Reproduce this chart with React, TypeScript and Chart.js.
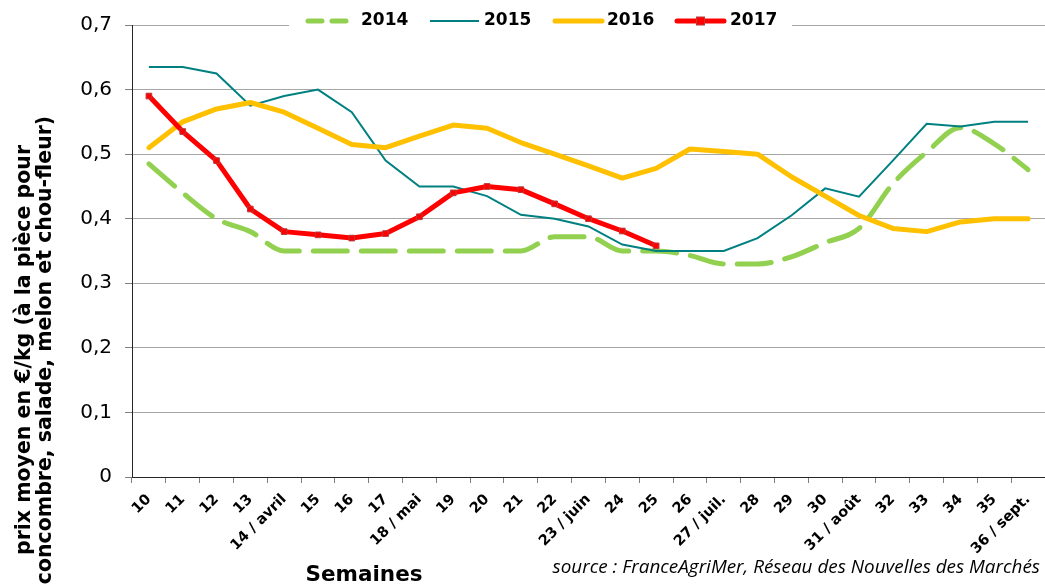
import { useEffect, useRef } from 'react';
import { Chart, registerables } from 'chart.js';
Chart.register(...registerables);

const weeks = ['10', '11', '12', '13', '14 / avril', '15', '16', '17', '18 / mai', '19', '20', '21', '22', '23 / juin', '24', '25', '26', '27 / juil.', '28', '29', '30', '31 / août', '32', '33', '34', '35', '36 / sept.'];
const s2014 = [0.485, 0.44, 0.40, 0.38, 0.35, 0.35, 0.35, 0.35, 0.35, 0.35, 0.35, 0.35, 0.372, 0.372, 0.35, 0.35, 0.343, 0.33, 0.33, 0.341, 0.363, 0.385, 0.454, 0.503, 0.541, 0.516, 0.476];
const s2015 = [0.635, 0.635, 0.625, 0.575, 0.59, 0.60, 0.565, 0.49, 0.45, 0.45, 0.435, 0.406, 0.40, 0.388, 0.36, 0.35, 0.35, 0.35, 0.37, 0.405, 0.447, 0.434, 0.49, 0.547, 0.543, 0.55, 0.55];
const s2016 = [0.51, 0.55, 0.57, 0.58, 0.565, 0.54, 0.515, 0.51, 0.528, 0.545, 0.54, 0.518, 0.50, 0.482, 0.463, 0.478, 0.508, 0.504, 0.50, 0.465, 0.435, 0.405, 0.385, 0.38, 0.395, 0.40, 0.40];
const s2017 = [0.59, 0.535, 0.49, 0.415, 0.38, 0.375, 0.37, 0.377, 0.403, 0.44, 0.45, 0.445, 0.423, 0.40, 0.381, 0.358, null, null, null, null, null, null, null, null, null, null, null];
const yTicks = [0, 0.1, 0.2, 0.3, 0.4, 0.5, 0.6, 0.7];

const seriesNames = ['2014', '2015', '2016', '2017'];
const yTitle1 = 'prix moyen en €/kg (à la pièce pour';
const yTitle2 = 'concombre, salade, melon et chou-fleur)';
const xTitle = 'Semaines';
const sourceText = 'source : FranceAgriMer, Réseau des Nouvelles des Marchés';

const GREEN = '#92D050';
const TEAL = '#008080';
const YELLOW = '#FFC000';
const RED = '#FF0000';

const decor = {
  id: 'decor',
  afterDraw(chart: any) {
    const ctx = chart.ctx as CanvasRenderingContext2D;
    ctx.save();
    // y title
    ctx.fillStyle = '#000';
    ctx.font = 'bold 20.5px "DejaVu Sans"';
    ctx.textAlign = 'center';
    ctx.textBaseline = 'middle';
    ctx.save();
    ctx.translate(25, 350);
    ctx.rotate(-Math.PI / 2);
    ctx.fillText(yTitle1, 0, 0);
    ctx.restore();
    ctx.save();
    ctx.translate(46, 350);
    ctx.rotate(-Math.PI / 2);
    ctx.fillText(yTitle2, 0, 0);
    ctx.restore();
    // x title
    ctx.font = 'bold 21.5px "DejaVu Sans"';
    ctx.fillText(xTitle, 364, 575);
    // source
    ctx.font = 'italic 18.9px "Open Sans"';
    ctx.textAlign = 'right';
    ctx.fillText(sourceText, 1040, 568);

    // legend
    ctx.fillStyle = '#fff';
    ctx.fillRect(289, 6, 503, 28);
    const ly = 21;
    ctx.lineCap = 'round';
    ctx.font = 'bold 17px "DejaVu Sans"';
    ctx.textAlign = 'left';
    ctx.fillStyle = '#000';
    // 2014
    ctx.strokeStyle = GREEN;
    ctx.lineWidth = 5;
    ctx.beginPath();
    ctx.moveTo(308, ly); ctx.lineTo(322, ly);
    ctx.moveTo(332, ly); ctx.lineTo(346, ly);
    ctx.stroke();
    ctx.fillText(seriesNames[0], 361, ly);
    // 2015
    ctx.strokeStyle = TEAL;
    ctx.lineWidth = 2;
    ctx.lineCap = 'butt';
    ctx.beginPath();
    ctx.moveTo(430, ly); ctx.lineTo(479, ly);
    ctx.stroke();
    ctx.fillText(seriesNames[1], 484, ly);
    // 2016
    ctx.lineCap = 'round';
    ctx.strokeStyle = YELLOW;
    ctx.lineWidth = 5;
    ctx.beginPath();
    ctx.moveTo(555, ly); ctx.lineTo(602, ly);
    ctx.stroke();
    ctx.fillText(seriesNames[2], 607, ly);
    // 2017
    ctx.strokeStyle = RED;
    ctx.beginPath();
    ctx.moveTo(677, ly); ctx.lineTo(724, ly);
    ctx.stroke();
    ctx.fillStyle = RED;
    ctx.fillRect(696.5, ly - 4, 8, 8);
    ctx.strokeStyle = '#b83a3a';
    ctx.lineWidth = 1;
    ctx.strokeRect(696.5, ly - 4, 8, 8);
    ctx.fillStyle = '#000';
    ctx.fillText(seriesNames[3], 730, ly);
    ctx.restore();
  },
};

export default function App() {
  const ref = useRef<HTMLCanvasElement>(null);
  useEffect(() => {
    document.body.style.margin = '0';
    const chart = new Chart(ref.current!, {
      type: 'line',
      data: {
        labels: weeks,
        datasets: [
          { label: seriesNames[0], data: s2014, borderColor: GREEN, backgroundColor: GREEN, borderWidth: 5, borderDash: [34, 14], borderCapStyle: 'round', pointRadius: 0, cubicInterpolationMode: 'monotone', order: 4 },
          { label: seriesNames[1], data: s2015, borderColor: TEAL, backgroundColor: TEAL, borderWidth: 2, pointRadius: 0, order: 3 },
          { label: seriesNames[2], data: s2016, borderColor: YELLOW, backgroundColor: YELLOW, borderWidth: 5, borderJoinStyle: 'round', borderCapStyle: 'round', pointRadius: 0, order: 2 },
          { label: seriesNames[3], data: s2017, borderColor: RED, backgroundColor: RED, borderWidth: 5, borderJoinStyle: 'round', pointStyle: 'rect', pointRadius: 4, pointBackgroundColor: RED, pointBorderColor: '#b83a3a', pointBorderWidth: 1, order: 1, spanGaps: false },
        ] as any,
      },
      options: {
        animation: false,
        responsive: false,
        maintainAspectRatio: false,
        layout: { autoPadding: false, padding: { top: 24, right: 0, left: 0, bottom: 0 } },
        plugins: { legend: { display: false }, tooltip: { enabled: false }, title: { display: false } },
        scales: {
          x: {
            type: 'category',
            offset: true,
            grid: { display: true, drawOnChartArea: false, drawTicks: true, tickLength: 6, offset: true, color: '#7f7f7f' },
            border: { display: true, color: '#262626', width: 1 },
            ticks: { maxRotation: 45, minRotation: 45, autoSkip: false, padding: 8, color: '#000', font: { family: '"DejaVu Sans"', size: 14.5, weight: 'bold' } },
            afterFit: (s: any) => { s.height = 107; s.paddingLeft = 0; s.paddingRight = 0; },
          },
          y: {
            min: 0,
            max: 0.7,
            afterBuildTicks: (s: any) => { s.ticks = yTicks.map((v) => ({ value: v })); },
            grid: { color: '#a6a6a6', lineWidth: 1, tickLength: 7, tickColor: '#7f7f7f' },
            border: { display: true, color: '#262626', width: 1 },
            ticks: { color: '#000', padding: 13, font: { family: '"DejaVu Sans"', size: 20 }, callback: (v: any) => (v === 0 ? '0' : Number(v).toFixed(1).replace('.', ',')) },
            afterFit: (s: any) => { s.width = 132; },
          },
        },
      } as any,
      plugins: [decor],
    });
    return () => chart.destroy();
  }, []);
  return (
    <div style={{ position: 'fixed', left: 0, top: 0, width: 1045, height: 584, background: '#fff' }}>
      <canvas ref={ref} width={1045} height={584} style={{ display: 'block' }} />
    </div>
  );
}
